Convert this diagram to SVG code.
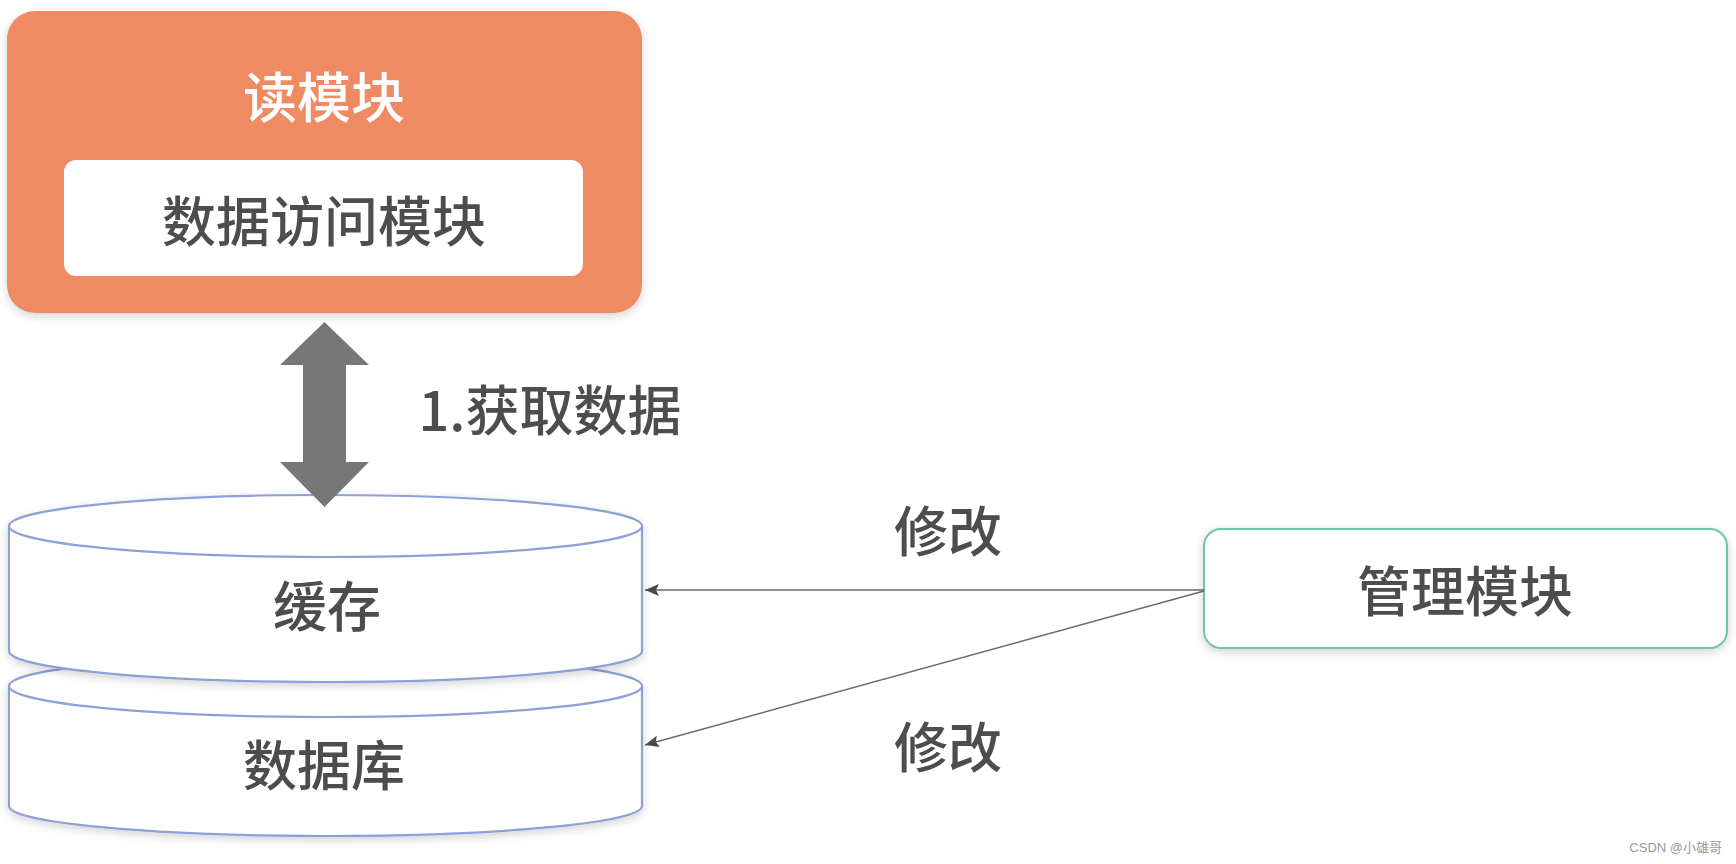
<svg xmlns="http://www.w3.org/2000/svg" width="1736" height="864" viewBox="0 0 1736 864">
<defs>
<style>
.t{font-family:"Noto Sans CJK SC","Noto Sans",sans-serif;text-anchor:middle;dominant-baseline:central;font-size:54px;font-weight:500;fill:#4d4d4d}
.db{fill:#fff;stroke:#8ea0d6;stroke-width:2.2}
.conn{stroke:#6a6a6a;stroke-width:1.6;fill:none;marker-end:url(#ah)}
</style>
<filter id="glow" x="-10%" y="-20%" width="120%" height="140%">
<feGaussianBlur in="SourceAlpha" stdDeviation="5"/>
<feOffset dy="3"/>
<feComponentTransfer><feFuncA type="linear" slope="0.18"/></feComponentTransfer>
<feMerge><feMergeNode/><feMergeNode in="SourceGraphic"/></feMerge>
</filter>
<marker id="ah" viewBox="0 0 14 12" refX="14" refY="6" markerWidth="14" markerHeight="12" markerUnits="userSpaceOnUse" orient="auto">
<path d="M0,0 L14,6 L0,12 L3,6 Z" fill="#4a4a4a"/>
</marker>
</defs>
<rect width="1736" height="864" fill="#fff"/>

<g id="read-module" filter="url(#glow)">
<rect x="7" y="11" width="635" height="302" rx="28" fill="#ef8b62"/>
<text class="t" x="324" y="94" style="fill:#fff">读模块</text>
</g>
<g id="data-access">
<rect x="64" y="160" width="519" height="116" rx="12" fill="#fff"/>
<text class="t" x="324" y="218">数据访问模块</text>
</g>

<g id="database" filter="url(#glow)">
<path class="db" d="M9 686 L9 806 A316.5 30 0 0 0 642 806 L642 686"/>
<ellipse class="db" cx="325.5" cy="686" rx="316.5" ry="31"/>
<text class="t" x="324" y="762">数据库</text>
</g>
<g id="cache" filter="url(#glow)">
<path class="db" d="M9 526 L9 651 A316.5 31 0 0 0 642 651 L642 526"/>
<ellipse class="db" cx="325.5" cy="526" rx="316.5" ry="31"/>
<text class="t" x="327" y="603">缓存</text>
</g>

<g id="manage-module" filter="url(#glow)">
<rect x="1204" y="529" width="523" height="119" rx="17" fill="#fff" stroke="#6cc9a0" stroke-width="2"/>
<text class="t" x="1465" y="588">管理模块</text>
</g>

<g id="connectors">
<polygon points="324.5,322 369,365 346,365 346,462 369,462 324.5,507 280,462 303,462 303,365 280,365" fill="#777"/>
<text class="t" x="550" y="407">1.获取数据</text>
<line class="conn" x1="1204" y1="590" x2="645" y2="590"/>
<line class="conn" x1="1204" y1="591" x2="645" y2="745"/>
<text class="t" x="948" y="528">修改</text>
<text class="t" x="948" y="744">修改</text>
</g>

<text x="1722" y="847" font-family="Liberation Sans, Noto Sans CJK SC, sans-serif" font-size="13" fill="#999" text-anchor="end" dominant-baseline="central">CSDN @小雄哥</text>
</svg>
